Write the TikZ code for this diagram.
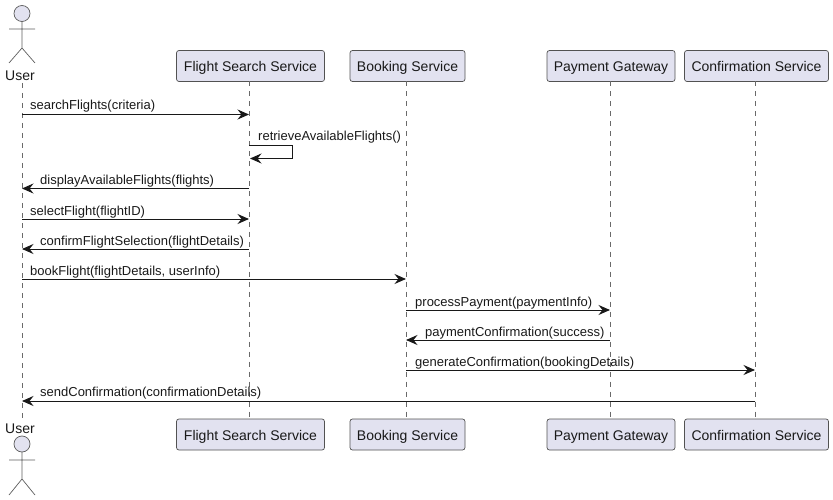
\documentclass[tikz,border=0pt]{standalone}
\usepackage{fontspec}
\setmainfont{Liberation Sans}
\usetikzlibrary{arrows.meta}
\definecolor{partfill}{HTML}{E2E2F0}
\definecolor{partline}{HTML}{181818}
\tikzset{
  x=1pt,y=-1pt,
  partbox/.style={draw=partline!75,fill=partfill,line width=0.7pt,rounded corners=2.5pt,minimum height=31pt,inner sep=0pt,anchor=center,text height=12.5pt,text depth=0.5pt,font=\fontsize{14}{16}\selectfont,text=black!90},
  actorname/.style={anchor=base,inner sep=0pt,font=\fontsize{14}{16}\selectfont,text=black!90},
  actorline/.style={draw=partline!70,line width=0.7pt},
  lifeline/.style={draw=partline!65,line width=0.6pt,dash pattern=on 5pt off 5pt},
  msg/.style={draw=partline,line width=1pt,-{Stealth[length=11.5pt,width=10pt,inset=4pt]}},
  msglabel/.style={anchor=base west,inner sep=0pt,font=\fontsize{13}{15}\selectfont,text=black!90}
}
\begin{document}
\begin{tikzpicture}
\useasboundingbox (0,0) rectangle (833,500);
% participant boxes
\node[partbox,minimum width=148pt] (f) at (250.5,66) {Flight Search Service};
\node[partbox,minimum width=115pt] (b) at (407.5,66) {Booking Service};
\node[partbox,minimum width=128pt] (p) at (611,66) {Payment Gateway};
\node[partbox,minimum width=144pt] (c) at (756.5,66) {Confirmation Service};
\node[partbox,minimum width=148pt] (f2) at (250.5,434.5) {Flight Search Service};
\node[partbox,minimum width=115pt] (b2) at (407.5,434.5) {Booking Service};
\node[partbox,minimum width=128pt] (p2) at (611,434.5) {Payment Gateway};
\node[partbox,minimum width=144pt] (c2) at (756.5,434.5) {Confirmation Service};
% actors
\node[actorname] (u) at (20,81) {User};
\node[actorname] (u2) at (20,433) {User};
\draw[actorline,fill=partfill] (22,13.5) circle (8);
\draw[actorline] (22,21.5) -- (22,48) (9,29) -- (35,29) (9,63) -- (22,48) -- (35,63);
\draw[actorline,fill=partfill] (22,444) circle (8);
\draw[actorline] (22,452) -- (22,479) (9,460) -- (35,460) (9,495) -- (22,479) -- (35,495);
% lifelines
\coordinate (ut) at (22,83);
\coordinate (ub) at (22,419);
\coordinate (ft) at (249,81.5);
\coordinate (fb) at (249,419);
\coordinate (bt) at (406,81.5);
\coordinate (bb) at (406,419);
\coordinate (pt) at (610,81.5);
\coordinate (pb) at (610,419);
\coordinate (ct) at (755,81.5);
\coordinate (cb) at (755,419);
\draw[lifeline] (ut) -- (ub);
\draw[lifeline] (ft) -- (fb);
\draw[lifeline] (bt) -- (bb);
\draw[lifeline] (pt) -- (pb);
\draw[lifeline] (ct) -- (cb);
% messages
\draw[msg] (ut |- 0,114.5) -- (ft |- 0,114.5);
\node[msglabel] (m1) at (30,110) {searchFlights(criteria)};
\draw[msg] (ft |- 0,145.5) -- (292.5,145.5) -- (292.5,158.5) -- (250,158.5);
\node[msglabel] (m2) at (258,141) {retrieveAvailableFlights()};
\draw[msg] (ft |- 0,188.5) -- (ut |- 0,188.5);
\node[msglabel] (m3) at (40,185) {displayAvailableFlights(flights)};
\draw[msg] (ut |- 0,219) -- (ft |- 0,219);
\node[msglabel] (m4) at (30,215) {selectFlight(flightID)};
\draw[msg] (ft |- 0,249) -- (ut |- 0,249);
\node[msglabel] (m5) at (40,245) {confirmFlightSelection(flightDetails)};
\draw[msg] (ut |- 0,279) -- (bt |- 0,279);
\node[msglabel] (m6) at (30,275) {bookFlight(flightDetails, userInfo)};
\draw[msg] (bt |- 0,310) -- (pt |- 0,310);
\node[msglabel] (m7) at (415,306) {processPayment(paymentInfo)};
\draw[msg] (pt |- 0,340) -- (bt |- 0,340);
\node[msglabel] (m8) at (425,336) {paymentConfirmation(success)};
\draw[msg] (bt |- 0,370) -- (ct |- 0,370);
\node[msglabel] (m9) at (415,366) {generateConfirmation(bookingDetails)};
\draw[msg] (ct |- 0,401) -- (ut |- 0,401);
\node[msglabel] (m10) at (40,396.5) {sendConfirmation(confirmationDetails)};
\end{tikzpicture}
\end{document}
